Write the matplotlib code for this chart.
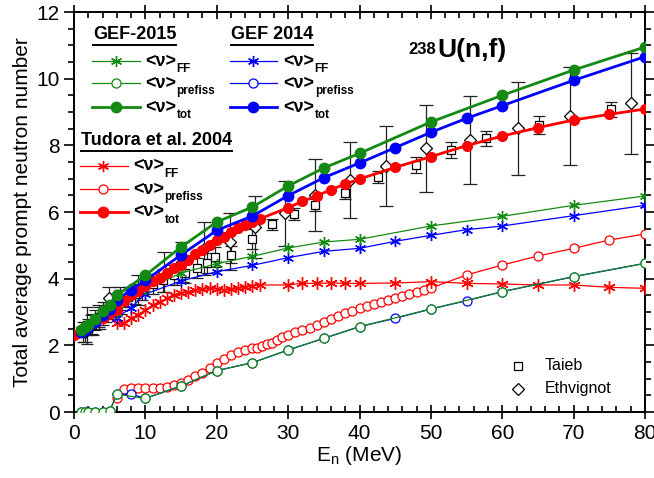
import matplotlib
matplotlib.use('Agg')
import matplotlib.pyplot as plt
from matplotlib.ticker import MultipleLocator

plt.rcParams['font.family'] = ['Liberation Sans', 'DejaVu Sans']

# GEF-2015
gef15_E = [1, 1.5, 2, 3, 4, 5, 6, 10, 15, 20, 25, 30, 35, 40, 50, 60, 70, 80]
gef15_tot = [2.45, 2.55, 2.62, 2.8, 3.02, 3.22, 3.5, 4.1, 4.95, 5.7, 6.15, 6.78,
             7.32, 7.76, 8.7, 9.5, 10.26, 10.95]
gef15_pre = [0, 0, 0, 0, 0, 0.03, 0.53, 0.41, 0.78, 1.24, 1.48, 1.86, 2.21, 2.56,
             3.09, 3.61, 4.06, 4.46]
gef15_ff = [2.45, 2.55, 2.62, 2.8, 3.02, 3.19, 2.97, 3.68, 4.17, 4.45, 4.67, 4.92,
            5.1, 5.18, 5.58, 5.87, 6.2, 6.48]

# GEF 2014
gef14_E = [1, 1.5, 2, 3, 4, 5, 6, 8, 10, 15, 20, 25, 30, 35, 40, 45, 50, 55, 60, 70, 80]
gef14_tot = [2.4, 2.47, 2.55, 2.7, 2.9, 3.1, 3.36, 3.66, 3.95, 4.71, 5.45, 5.88, 6.49,
             7.03, 7.47, 7.93, 8.39, 8.81, 9.19, 9.95, 10.66]
gef14_pre = [0, 0, 0, 0, 0, 0.03, 0.53, 0.53, 0.41, 0.78, 1.24, 1.48, 1.86, 2.21, 2.56,
             2.81, 3.09, 3.34, 3.61, 4.06, 4.46]
gef14_ff = [2.4, 2.47, 2.55, 2.7, 2.9, 3.07, 2.83, 3.13, 3.54, 3.93, 4.21, 4.4, 4.63,
            4.82, 4.91, 5.12, 5.3, 5.47, 5.58, 5.89, 6.2]

# Tudora et al. 2004
tud_E = list(range(0, 27)) + [30, 32, 34, 36, 38, 40, 45, 50, 55, 60, 65, 70, 75, 80]
tud_tot = [2.32, 2.45, 2.57, 2.7, 2.83, 2.96, 3.07, 3.34, 3.52, 3.62, 3.77, 3.92, 4.03,
           4.17, 4.32, 4.42, 4.57, 4.74, 4.86, 5.02, 5.16, 5.24, 5.39, 5.52, 5.6, 5.69,
           5.79, 6.13, 6.32, 6.48, 6.67, 6.84, 6.99, 7.34, 7.66, 7.99, 8.28, 8.53, 8.76,
           8.93, 9.09]
tud_ff = [2.32, 2.45, 2.57, 2.7, 2.83, 2.96, 2.66, 2.66, 2.81, 2.91, 3.06, 3.21, 3.31,
          3.41, 3.51, 3.56, 3.61, 3.66, 3.68, 3.71, 3.7, 3.66, 3.68, 3.71, 3.74, 3.78,
          3.81, 3.81, 3.86, 3.86, 3.87, 3.86, 3.86, 3.87, 3.91, 3.86, 3.84, 3.81, 3.81,
          3.74, 3.71]
tud_pre_E = (list(range(6, 26)) + [25.7, 26.4, 27.1, 27.8, 28.5, 29.2]
             + list(range(30, 51)) + [55, 60, 65, 70, 75, 80])
tud_pre = [0.41, 0.68, 0.71, 0.71, 0.71, 0.71, 0.72, 0.76, 0.81, 0.86, 0.96, 1.08, 1.18,
           1.31, 1.46, 1.58, 1.71, 1.81, 1.86, 1.91,
           1.93, 1.98, 2.04, 2.08, 2.16, 2.24,
           2.31, 2.39, 2.46, 2.53, 2.61, 2.7, 2.79, 2.88, 2.96, 3.04, 3.12, 3.18, 3.24,
           3.3, 3.36, 3.42, 3.48, 3.54, 3.6, 3.66, 3.72,
           4.11, 4.41, 4.68, 4.91, 5.16, 5.34]

# experimental data
taieb_E = [1.2, 1.8, 2.0, 2.5, 3.0, 3.5, 4.0, 4.5, 5.0, 5.5, 6.5, 7.5, 8.5, 9.5, 11,
           12.5, 14, 15.6, 17.2, 18.6, 19.8, 22.0, 24.9, 27.7, 30.8, 33.8, 37.9, 42.6,
           47.9, 52.8, 57.7, 65.1, 75.2]
taieb_v = [2.4, 2.6, 2.55, 2.65, 2.75, 2.85, 2.95, 3.0, 3.1, 3.2, 3.35, 3.45, 3.55,
           3.65, 3.85, 3.95, 4.1, 4.16, 4.31, 4.48, 4.66, 4.72, 5.2, 5.63, 5.93, 6.21,
           6.58, 7.05, 7.41, 7.86, 8.21, 8.61, 9.08]
taieb_err = [0.3, 0.55, 0.25, 0.3, 0.3, 0.3, 0.35, 0.3, 0.3, 0.35, 0.3, 0.3, 0.3, 0.3,
             0.3, 0.35, 0.3, 0.3, 0.3, 0.3, 0.3, 0.25, 0.3, 0.16, 0.18, 0.17, 0.2,
             0.18, 0.23, 0.24, 0.22, 0.27, 0.23]
eth_E = [1.5, 2.5, 3.5, 4.9, 6.5, 9.0, 12.6, 15.2, 18.2, 21.8, 25.4, 29.6, 33.8, 38.6,
         43.7, 49.3, 55.5, 62.2, 69.5, 78.1]
eth_v = [2.4, 2.6, 2.85, 3.41, 3.35, 3.65, 4.2, 4.5, 4.9, 5.11, 5.56, 5.96, 6.5, 6.96,
         7.38, 7.91, 8.16, 8.51, 8.88, 9.26]
eth_err = [0.3, 0.3, 0.35, 0.35, 0.4, 0.45, 0.6, 0.6, 0.8, 0.85, 0.93, 0.98, 1.08, 1.15,
           1.2, 1.3, 1.33, 1.39, 1.47, 1.51]

green = '#138a13'
blue = '#0000ff'
red = '#ff0000'
ast = (6, 2, 0)

fig = plt.figure(figsize=(6.54, 4.78), dpi=100)
ax = fig.add_axes([74 / 654, 66 / 478, 571 / 654, 400 / 478])

# experimental
ax.errorbar(eth_E, eth_v, yerr=eth_err, fmt='D', ms=6, mfc='white', mec='black',
            mew=0.9, ecolor='#222222', elinewidth=0.9, capsize=5, capthick=0.9,
            zorder=2)
ax.errorbar(taieb_E, taieb_v, yerr=taieb_err, fmt='s', ms=5.5, mfc='white', mec='black',
            mew=0.9, ecolor='#222222', elinewidth=0.9, capsize=4, capthick=0.9,
            zorder=2)

# Tudora
ax.plot(tud_pre_E, tud_pre, '-o', color=red, lw=0.9, ms=6.5, mfc='white', mec=red,
        mew=0.9, zorder=3)
ax.plot(tud_E, tud_ff, '-', color=red, lw=0.9, marker=ast, ms=9, mew=1.0, zorder=3)
ax.plot(tud_E, tud_tot, '-o', color=red, lw=2, ms=7, zorder=4)

# GEF 2014
ax.plot(gef14_E, gef14_pre, '-o', color=blue, lw=0.9, ms=6.5, mfc='white', mec=blue,
        mew=0.9, zorder=3)
ax.plot(gef14_E, gef14_ff, '-', color=blue, lw=0.9, marker=ast, ms=8, mew=1.0, zorder=3)
ax.plot(gef14_E, gef14_tot, '-o', color=blue, lw=2, ms=7.5, zorder=5)

# GEF-2015
ax.plot(gef15_E, gef15_pre, '-o', color=green, lw=0.9, ms=6.5, mfc='white', mec=green,
        mew=0.9, zorder=3)
ax.plot(gef15_E, gef15_ff, '-', color=green, lw=0.9, marker=ast, ms=8, mew=1.0, zorder=3)
ax.plot(gef15_E, gef15_tot, '-o', color=green, lw=2, ms=7.5, zorder=5)

ax.set_xlim(0, 80)
ax.set_ylim(0, 12)
ax.xaxis.set_major_locator(MultipleLocator(10))
ax.xaxis.set_minor_locator(MultipleLocator(2))
ax.yaxis.set_major_locator(MultipleLocator(2))
ax.yaxis.set_minor_locator(MultipleLocator(0.5))
ax.tick_params(which='both', top=True, right=True, labelsize=15, width=1.2)
ax.tick_params(which='major', length=7)
ax.tick_params(which='minor', length=4)
ax.tick_params(axis='y', which='both', direction='out')
ax.tick_params(axis='x', which='both', direction='in')
ax.tick_params(axis='x', which='major', direction='inout', length=10)
for s in ax.spines.values():
    s.set_linewidth(1.4)

ax.set_xlabel(r'E$_\mathregular{n}$ (MeV)', fontsize=15, labelpad=1)
ax.set_ylabel('Total average prompt neutron number', fontsize=15, labelpad=3)

# legend blocks
headers = []


def block(title, tx, ty, x0, x1, xm, xt, rows, color):
    t = ax.text(tx, ty, title, transform=ax.transAxes, fontsize=13, fontweight='bold',
                va='center', ha='left')
    headers.append(t)
    styles = [dict(marker=ast, ms=8, mew=1.0, mfc=color),
              dict(marker='o', ms=6.5, mfc='white', mew=0.9),
              dict(marker='o', ms=7.5, mfc=color)]
    widths = [0.9, 0.9, 2]
    subs = ['FF', 'prefiss', 'tot']
    for ry, st, lw, sub in zip(rows, styles, widths, subs):
        ax.plot([x0, x1], [ry, ry], transform=ax.transAxes, color=color, lw=lw,
                clip_on=False)
        ax.plot([xm], [ry], transform=ax.transAxes, color=color, mec=color,
                clip_on=False, linestyle='none', **st)
        n = ax.text(xt, ry, '<ν>', transform=ax.transAxes, fontsize=13,
                    fontweight='bold', va='center', ha='left')
        ax.annotate(sub, xy=(1, 0), xycoords=n, xytext=(0.5, -2),
                    textcoords='offset points', fontsize=8.5, fontweight='bold',
                    va='baseline', ha='left')


block('GEF-2015', 0.033, 0.943, 0.0315, 0.1156, 0.0736, 0.124,
      [0.8775, 0.8225, 0.7625], green)
block('GEF 2014', 0.275, 0.943, 0.273, 0.3555, 0.313, 0.366,
      [0.8775, 0.8225, 0.7625], blue)
block('Tudora et al. 2004', 0.012, 0.678, 0.0105, 0.0946, 0.0508, 0.103,
      [0.615, 0.5575, 0.5], red)

# reaction label
u = ax.text(0.636, 0.905, 'U(n,f)', transform=ax.transAxes, fontsize=19,
            fontweight='bold', va='center', ha='left')
ax.annotate('238', xy=(0, 1), xycoords=u, xytext=(-1, -3),
            textcoords='offset points', fontsize=12, fontweight='bold',
            va='top', ha='right')

# experimental legend
ax.plot([0.7776], [0.115], 's', transform=ax.transAxes, ms=5.5, mfc='white',
        mec='black', mew=0.9)
ax.text(0.825, 0.115, 'Taieb', transform=ax.transAxes, fontsize=11.5, va='center')
ax.plot([0.7776], [0.0575], 'D', transform=ax.transAxes, ms=6, mfc='white', mec='black',
        mew=0.9)
ax.text(0.825, 0.0575, 'Ethvignot', transform=ax.transAxes, fontsize=11.5,
        va='center')

# underline the headers
fig.canvas.draw()
inv = ax.transAxes.inverted()
for t in headers:
    bb = t.get_window_extent()
    (xa, ya), (xb, yb) = inv.transform([(bb.x0, bb.y0), (bb.x1, bb.y1)])
    ax.plot([xa, xb], [ya - 0.004, ya - 0.004], transform=ax.transAxes, color='black',
            lw=1.4, clip_on=False)

fig.savefig('out.png', dpi=100)
